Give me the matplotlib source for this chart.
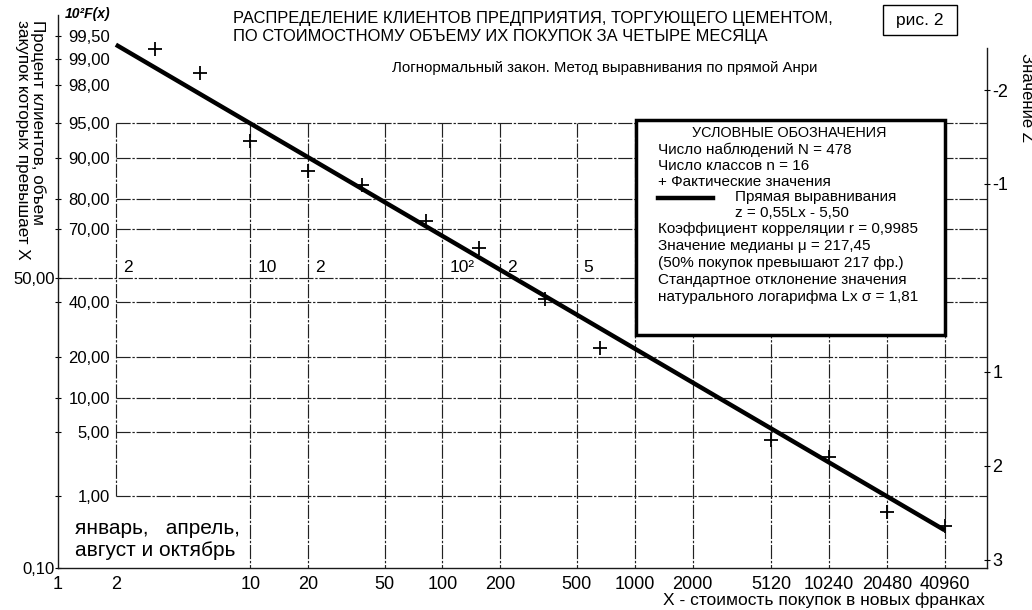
import matplotlib
matplotlib.use("Agg")
import matplotlib.pyplot as plt
from matplotlib.patches import Rectangle
from matplotlib.lines import Line2D
from matplotlib.ticker import NullLocator
from statistics import NormalDist

plt.rcParams['font.family'] = ['Liberation Sans', 'DejaVu Sans']

W, H = 1032, 610

# значения
x_ticks = [1, 2, 10, 20, 50, 100, 200, 500, 1000, 2000, 5120, 10240, 20480, 40960]
x_grid = [2, 10, 20, 50, 100, 200, 500, 1000, 2000, 5120, 10240, 20480, 40960]
pct_inner = [99.5, 99, 98, 95, 90, 80, 70, 40, 20, 10, 5, 1]
pct_outer = [50, 0.1]
pct_grid = [95, 90, 80, 70, 50, 40, 20, 10, 5, 1]
z_ticks = [-2, -1, 1, 2, 3]
mid_x = [2, 10, 20, 100, 200, 500]
mid_labels = ['2', '10', '2', '10²', '2', '5']

# фактические значения (+)
obs_x = [3.2, 5.5, 10, 20, 38, 82, 154, 340, 658, 5120, 10240, 20480, 40960]
obs_pct = [99.26, 98.56, 92.8, 87.3, 83.8, 72.9, 62.4, 41.3, 22.9, 4.19, 2.83, 0.625, 0.417]

# прямая выравнивания
fit_x = [2, 40960]
fit_pct = [99.35, 0.36]

legend_lines = [
    "Число наблюдений N = 478",
    "Число классов n = 16",
    "+ Фактические значения",
]
legend_lines2 = [
    "Коэффициент корреляции r = 0,9985",
    "Значение медианы μ = 217,45",
    "(50% покупок превышают 217 фр.)",
    "Стандартное отклонение значения",
    "натурального логарифма Lx σ = 1,81",
]

nd = NormalDist()


def z_of(p):
    """процент превышения -> значение z"""
    return nd.inv_cdf(1 - p / 100.0)


def fx(px):
    return px / W


def fy(py):
    return 1 - py / H


fig = plt.figure(figsize=(W / 100, H / 100), dpi=100)
ax = fig.add_axes([fx(58), fy(568), (987 - 58) / W, (568 - 15) / H])

xmax = 6.8e4
zbot = z_of(0.1)
ztop = -2.80
ax.set_xscale('log')
ax.set_xlim(1, xmax)
ax.set_ylim(zbot, ztop)

grid_kw = dict(color='#222222', lw=0.85, linestyle=(0, (12, 1.5, 2, 1.5)), zorder=1)
for p in pct_grid:
    x0 = 1 if p == 50 else 2
    ax.hlines(z_of(p), x0, xmax, **grid_kw)
for xv in x_grid:
    z_end = z_of(1) if xv == 2 else zbot
    ax.vlines(xv, z_of(95), z_end, **grid_kw)

ax.spines['top'].set_visible(False)
ax.spines['right'].set_bounds(zbot, (48 - 278) / 93.85)
for s in ['left', 'right', 'bottom']:
    ax.spines[s].set_color('#1a1a1a')
    ax.spines[s].set_linewidth(1.0)

fmt = lambda p: f"{p:.2f}".replace('.', ',')
ax.set_yticks([z_of(p) for p in pct_inner], labels=[fmt(p) for p in pct_inner])
ax.set_yticks([z_of(p) for p in pct_outer], labels=[fmt(p) for p in pct_outer], minor=True)
ax.tick_params(axis='y', which='major', direction='inout', length=5, width=0.8,
               pad=-39.9, labelsize=12)
ax.tick_params(axis='y', which='minor', direction='inout', length=5, width=0.8,
               pad=0, labelsize=12)

ax.set_xticks(x_ticks, labels=[str(v) for v in x_ticks])
ax.xaxis.set_minor_locator(NullLocator())
ax.tick_params(axis='x', length=0, pad=5.5, labelsize=13)

ax2 = ax.twinx()
ax2.set_ylim(zbot, ztop)
ax2.set_yticks(z_ticks, labels=[str(z) for z in z_ticks])
ax2.tick_params(axis='y', direction='inout', length=5, width=0.8, pad=1.5, labelsize=13)
for s in ax2.spines.values():
    s.set_visible(False)

# прямая и точки
ax.plot(fit_x, [z_of(p) for p in fit_pct], color='k', lw=3.2,
        solid_capstyle='butt', zorder=4)
ax.plot(obs_x, [z_of(p) for p in obs_pct], ls='none', marker='+', color='k',
        ms=10, mew=1.3, zorder=5, clip_on=False)

for xv, lab in zip(mid_x, mid_labels):
    ax.annotate(lab, (xv, 0), xytext=(5, 2), textcoords='offset points',
                ha='left', va='bottom', fontsize=12.5, zorder=3)

# подписи
fig.text(fx(233), fy(18), "РАСПРЕДЕЛЕНИЕ КЛИЕНТОВ ПРЕДПРИЯТИЯ, ТОРГУЮЩЕГО ЦЕМЕНТОМ,",
         ha='left', va='center', fontsize=11.9)
fig.text(fx(233), fy(36), "ПО СТОИМОСТНОМУ ОБЪЕМУ ИХ ПОКУПОК ЗА ЧЕТЫРЕ МЕСЯЦА",
         ha='left', va='center', fontsize=11.9)
fig.text(fx(605), fy(68), "Логнормальный закон. Метод выравнивания по прямой Анри",
         ha='center', va='center', fontsize=10.8)
fig.text(fx(920), fy(20), "рис. 2", ha='center', va='center', fontsize=12.5)
fig.add_artist(Rectangle((fx(883), fy(35)), (957 - 883) / W, 30 / H,
                         transform=fig.transFigure, fill=False, lw=1.0, ec='k'))
fig.text(fx(65), fy(14), "10²F(x)", ha='left', va='center', fontsize=10,
         style='italic', weight='bold')

fig.text(fx(38), fy(20), "Процент клиентов, объем", rotation=-90,
         ha='center', va='top', fontsize=12.3)
fig.text(fx(22), fy(20), "закупок которых превышает X", rotation=-90,
         ha='center', va='top', fontsize=12.3)
fig.text(fx(1026), fy(97), "Значение Z", rotation=-90,
         ha='center', va='center', fontsize=12)

fig.text(fx(985), fy(600), "X - стоимость покупок в новых франках",
         ha='right', va='center', fontsize=12.5)
fig.text(fx(75), fy(528), "январь,   апрель,", ha='left', va='center', fontsize=15)
fig.text(fx(75), fy(550), "август и октябрь", ha='left', va='center', fontsize=15)

# условные обозначения
fig.add_artist(Rectangle((fx(636), fy(335)), (945 - 636) / W, (335 - 120) / H,
                         transform=fig.transFigure, fc='white', ec='k', lw=2.5, zorder=4))
fig.text(fx(789), fy(133), "УСЛОВНЫЕ ОБОЗНАЧЕНИЯ", ha='center', va='center',
         fontsize=10.4, zorder=5)
for i, t in enumerate(legend_lines):
    fig.text(fx(658), fy(150 + 16 * i), t, ha='left', va='center', fontsize=11, zorder=5)
fig.add_artist(Line2D([fx(658), fx(713)], [fy(198), fy(198)], color='k', lw=3.2,
                      transform=fig.transFigure, zorder=5))
fig.text(fx(735), fy(197), "Прямая выравнивания", ha='left', va='center',
         fontsize=11, zorder=5)
fig.text(fx(735), fy(213), "z = 0,55Lx - 5,50", ha='left', va='center',
         fontsize=11, zorder=5)
for i, t in enumerate(legend_lines2):
    fig.text(fx(658), fy(229 + 17 * i), t, ha='left', va='center', fontsize=11, zorder=5)

fig.savefig("out.png", dpi=100)
